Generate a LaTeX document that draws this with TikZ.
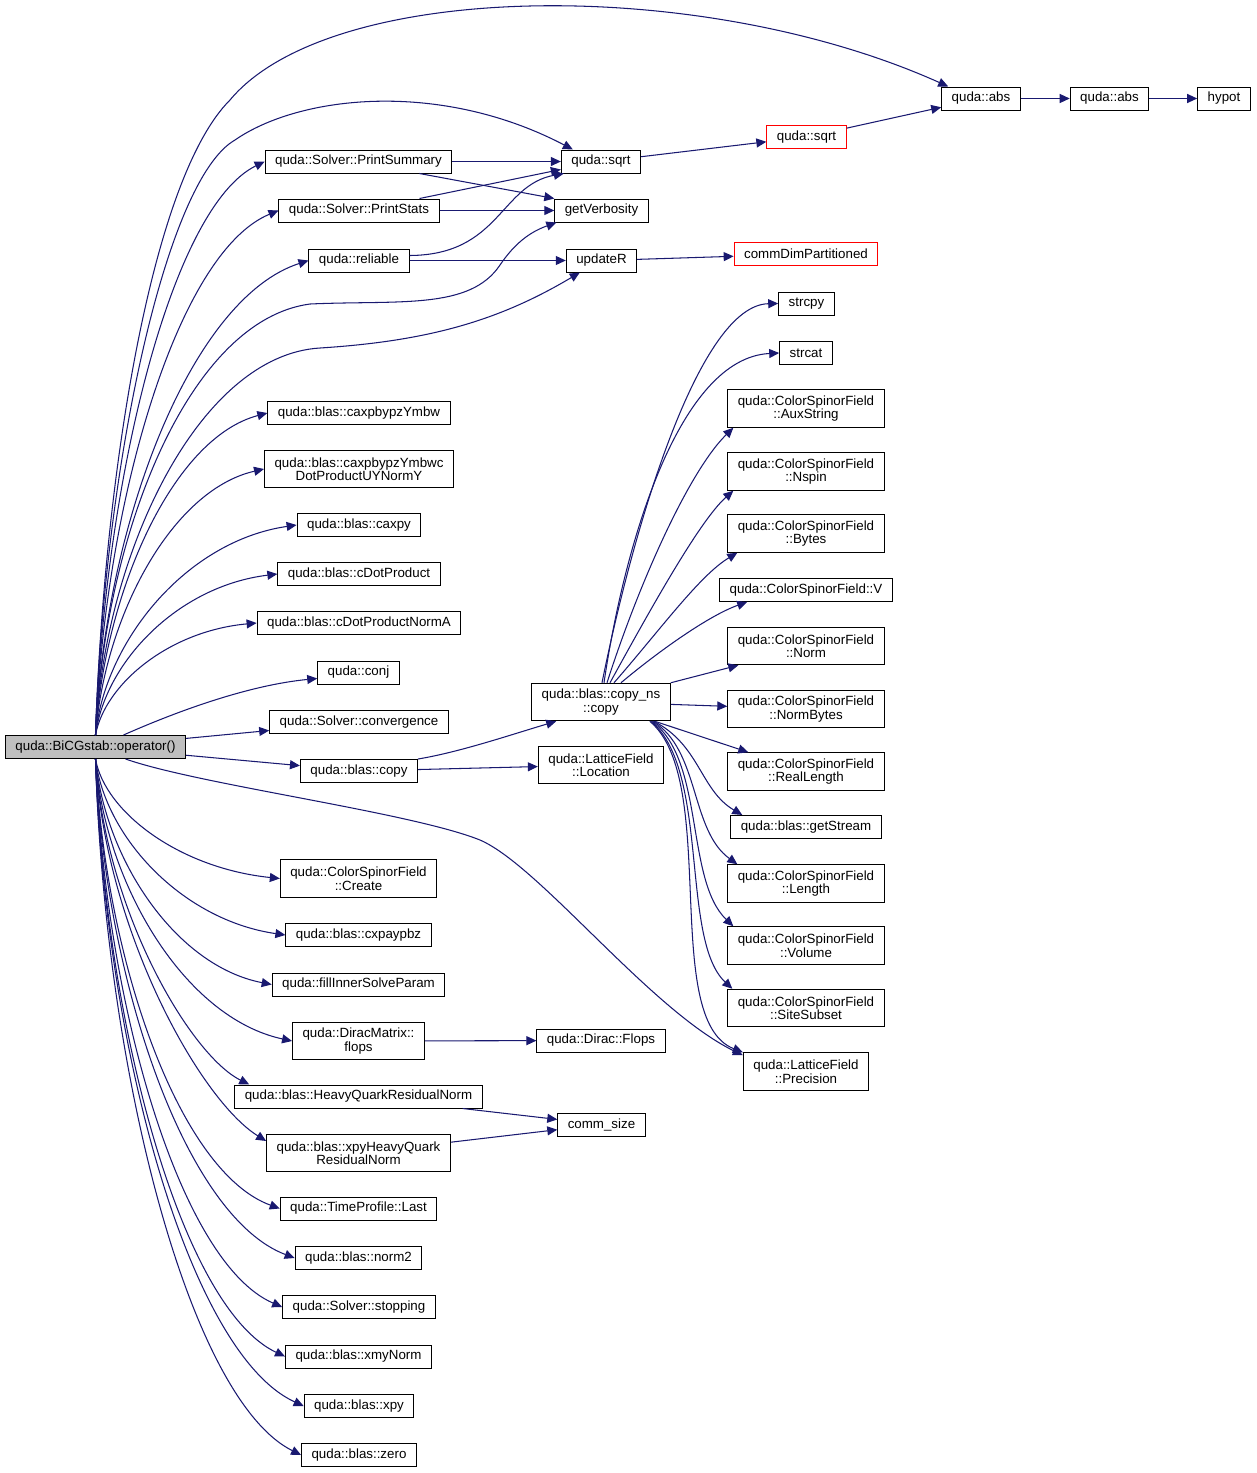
\documentclass[tikz,border=0pt]{standalone}
\usepackage{fontspec}
\setmainfont{Liberation Sans}
\usepackage{tikz}
\usetikzlibrary{arrows.meta,positioning,calc}
\usepackage{xcolor}
\definecolor{edge}{HTML}{191970}
\definecolor{rootgray}{HTML}{BFBFBF}
\tikzset{
  fnbox/.style={draw=black, line width=1pt, fill=white, align=center, inner xsep=10pt, inner ysep=2pt, minimum height=23pt, font=\fontsize{13.33}{13.5}\selectfont},
  twoline/.style={minimum height=37.5pt},
  rootbox/.style={fnbox, fill=rootgray},
  redbox/.style={fnbox, draw=red},
  arrow/.style={-{Triangle[length=10pt,width=9pt]}, line width=1.05pt, draw=edge}
}

\begin{document}
\begin{tikzpicture}[x=1pt, y=-1pt]
  \useasboundingbox (0,0) rectangle (1257,1473);
  % caller
  \node[rootbox] (root) at (95.5,747) {quda::BiCGstab::operator()};
  % second column
  \node[fnbox] (psum) at (358.5,161.5) {quda::Solver::PrintSummary};
  \node[fnbox] (pstat) at (359,210.5) {quda::Solver::PrintStats};
  \node[fnbox] (rel) at (359,260.5) {quda::reliable};
  \node[fnbox] (cxpb) at (359,413) {quda::blas::caxpbypzYmbw};
  \node[fnbox, twoline] (cxpbdot) at (359,469) {quda::blas::caxpbypzYmbwc\\DotProductUYNormY};
  \node[fnbox] (caxpy) at (359,525) {quda::blas::caxpy};
  \node[fnbox] (cdot) at (359,574) {quda::blas::cDotProduct};
  \node[fnbox] (cdotn) at (359,623) {quda::blas::cDotProductNormA};
  \node[fnbox] (conj) at (358.5,672.5) {quda::conj};
  \node[fnbox] (conv) at (359,722) {quda::Solver::convergence};
  \node[fnbox] (bcopy) at (359,771) {quda::blas::copy};
  \node[fnbox, twoline] (create) at (358.5,878.5) {quda::ColorSpinorField\\::Create};
  \node[fnbox] (cxpay) at (358.5,935) {quda::blas::cxpaypbz};
  \node[fnbox] (fill) at (358.5,984.5) {quda::fillInnerSolveParam};
  \node[fnbox, twoline] (dmflops) at (358.5,1041) {quda::DiracMatrix::\\flops};
  \node[fnbox] (hqrn) at (358.5,1096.5) {quda::blas::HeavyQuarkResidualNorm};
  \node[fnbox, twoline] (xhqrn) at (358.5,1153) {quda::blas::xpyHeavyQuark\\ResidualNorm};
  \node[fnbox] (tlast) at (358.5,1208.5) {quda::TimeProfile::Last};
  \node[fnbox] (norm2) at (358.5,1258) {quda::blas::norm2};
  \node[fnbox] (stop) at (359,1307) {quda::Solver::stopping};
  \node[fnbox] (xmy) at (358.5,1356.5) {quda::blas::xmyNorm};
  \node[fnbox] (xpy) at (359,1406) {quda::blas::xpy};
  \node[fnbox] (zero) at (359,1455) {quda::blas::zero};
  % third column
  \node[fnbox] (sqrt) at (601,161.5) {quda::sqrt};
  \node[fnbox] (verb) at (601.5,210.5) {getVerbosity};
  \node[fnbox] (updr) at (601.5,260.5) {updateR};
  \node[fnbox, twoline] (cpns) at (601,702) {quda::blas::copy\_ns\\::copy};
  \node[fnbox, twoline] (loc) at (601,765) {quda::LatticeField\\::Location};
  \node[fnbox] (dflops) at (601,1040.5) {quda::Dirac::Flops};
  \node[fnbox] (commsz) at (601.5,1124.5) {comm\_size};
  % fourth column
  \node[redbox] (sqrtr) at (806.5,137) {quda::sqrt};
  \node[redbox] (cdp) at (806,254) {commDimPartitioned};
  \node[fnbox] (strcpy) at (806.5,303.5) {strcpy};
  \node[fnbox] (strcat) at (806,353) {strcat};
  \node[fnbox, twoline] (aux) at (806,408.5) {quda::ColorSpinorField\\::AuxString};
  \node[fnbox, twoline] (nspin) at (806,471.5) {quda::ColorSpinorField\\::Nspin};
  \node[fnbox, twoline] (bytes) at (806,533.5) {quda::ColorSpinorField\\::Bytes};
  \node[fnbox] (csfv) at (806,590) {quda::ColorSpinorField::V};
  \node[fnbox, twoline] (norm) at (806,646) {quda::ColorSpinorField\\::Norm};
  \node[fnbox, twoline] (nbytes) at (806,709) {quda::ColorSpinorField\\::NormBytes};
  \node[fnbox, twoline] (rlen) at (806,771.5) {quda::ColorSpinorField\\::RealLength};
  \node[fnbox] (gstream) at (806,827) {quda::blas::getStream};
  \node[fnbox, twoline] (len) at (806,883.5) {quda::ColorSpinorField\\::Length};
  \node[fnbox, twoline] (vol) at (806,945.5) {quda::ColorSpinorField\\::Volume};
  \node[fnbox, twoline] (site) at (806,1008) {quda::ColorSpinorField\\::SiteSubset};
  \node[fnbox, twoline] (prec) at (806,1071.5) {quda::LatticeField\\::Precision};
  % abs chain
  \node[fnbox] (abs) at (981,98.5) {quda::abs};
  \node[fnbox] (absb) at (1109.5,98.5) {quda::abs};
  \node[fnbox] (hypot) at (1224,98.5) {hypot};

  % calls going up
  \draw[arrow] (root.north) .. controls (104,480) and (150,180) .. (230,100) .. controls (330,-20) and (700,-25) .. ([xshift=7pt]abs.north west);
  \draw[arrow] (root.north) .. controls (104,470) and (165,180) .. (235,140) .. controls (300,95) and (440,80) .. ([xshift=12pt]sqrt.north west);
  \draw[arrow] (root.north) .. controls (105,477) and (172,207) .. (psum.west);
  \draw[arrow] (root.north) .. controls (105,499) and (178,252) .. (pstat.west);
  \draw[arrow] (root.north) .. controls (105,521) and (192,298) .. (rel.west);
  \draw[arrow] (root.north) .. controls (105,530) and (190,320) .. (310,304) .. controls (400,300) and (470,310) .. (500,265) .. controls (515,243) and (530,232) .. ([xshift=2pt]verb.south west);
  \draw[arrow] (root.north) .. controls (105,550) and (200,355) .. (320,348) .. controls (430,341) and (500,320) .. ([xshift=14pt]updr.south west);
  \draw[arrow] (root.north) .. controls (105,590) and (173,438) .. (cxpb.west);
  \draw[arrow] (root.north) .. controls (105,615) and (172,490) .. (cxpbdot.west);
  \draw[arrow] (root.north) .. controls (105,640) and (187,541) .. (caxpy.west);
  \draw[arrow] (root.north) .. controls (105,662) and (178,586) .. (cdot.west);
  \draw[arrow] (root.north) .. controls (105,684) and (169,631) .. (cdotn.west);
  \draw[arrow] ([xshift=28pt]root.north) .. controls (180,710) and (250,685) .. ([yshift=-6pt]conj.west);
  \draw[arrow] (root) -- (conv);
  \draw[arrow] (root) -- (bcopy);
  % calls going down
  \draw[arrow] ([xshift=30pt]root.south) .. controls (200,785) and (410,812) .. (480,840) .. controls (540,866) and (650,1010) .. ([yshift=-3pt]prec.north west);
  \draw[arrow] (root.south) .. controls (105,812) and (179,868) .. (create.west);
  \draw[arrow] (root.south) .. controls (105,837) and (182,920) .. (cxpay.west);
  \draw[arrow] (root.south) .. controls (105,860) and (176,966) .. (fill.west);
  \draw[arrow] (root.south) .. controls (105,885) and (185,1018) .. (dmflops.west);
  \draw[arrow] (root.south) .. controls (105,910) and (190,1055) .. ([xshift=15pt]hqrn.north west);
  \draw[arrow] (root.south) .. controls (105,930) and (200,1100) .. ([yshift=12pt]xhqrn.west);
  \draw[arrow] (root.south) .. controls (105,960) and (179,1172) .. (tlast.west);
  \draw[arrow] (root.south) .. controls (105,983) and (186,1217) .. (norm2.west);
  \draw[arrow] (root.south) .. controls (105,1005) and (180,1263) .. (stop.west);
  \draw[arrow] (root.south) .. controls (105,1027) and (182,1308) .. (xmy.west);
  \draw[arrow] (root.south) .. controls (105,1050) and (190,1354) .. (xpy.west);
  \draw[arrow] (root.south) .. controls (105,1071) and (189,1399) .. (zero.west);

  % second level
  \draw[arrow] (psum) -- (sqrt);
  \draw[arrow] ([xshift=-33pt]psum.south east) -- (verb.north west);
  \draw[arrow] ([xshift=-20pt]pstat.north east) -- ([yshift=-8pt]sqrt.west);
  \draw[arrow] (pstat) -- (verb);
  \draw[arrow] ([yshift=5pt]rel.east) .. controls (500,255) and (500,185) .. ([xshift=3pt]sqrt.south west);
  \draw[arrow] (rel) -- (updr);
  \draw[arrow] (sqrt) -- (sqrtr);
  \draw[arrow] (sqrtr) -- (abs);
  \draw[arrow] (abs) -- (absb);
  \draw[arrow] (absb) -- (hypot);
  \draw[arrow] (updr) -- (cdp);
  \draw[arrow] (bcopy) -- (loc);
  \draw[arrow] (bcopy.north east) .. controls (460,752) and (510,735) .. ([xshift=25pt]cpns.south west);
  \draw[arrow] (dmflops) -- (dflops);
  \draw[arrow] (hqrn) -- (commsz);
  \draw[arrow] (xhqrn) -- (commsz);

  % copy_ns fan
  \draw[arrow] ([xshift=1pt]cpns.north) .. controls (635,520) and (700,305) .. (strcpy.west);
  \draw[arrow] ([xshift=3pt]cpns.north) .. controls (625,540) and (680,358) .. (strcat.west);
  \draw[arrow] ([xshift=6pt]cpns.north) .. controls (640,580) and (690,470) .. ([xshift=6pt]aux.south west);
  \draw[arrow] ([xshift=9pt]cpns.north) .. controls (650,610) and (700,520) .. ([xshift=6pt]nspin.south west);
  \draw[arrow] ([xshift=13pt]cpns.north) .. controls (660,630) and (700,575) .. ([xshift=10pt]bytes.south west);
  \draw[arrow] ([xshift=20pt]cpns.north) .. controls (660,650) and (710,615) .. ([xshift=28pt]csfv.south west);
  \draw[arrow] (cpns.north east) -- ([xshift=11pt]norm.south west);
  \draw[arrow] (cpns) -- (nbytes);
  \draw[arrow] ([xshift=-16pt]cpns.south east) -- ([xshift=21pt]rlen.north west);
  \draw[arrow] ([xshift=-17pt]cpns.south east) .. controls (700,745) and (700,790) .. ([xshift=12pt]gstream.north west);
  \draw[arrow] ([xshift=-18pt]cpns.south east) .. controls (700,750) and (690,830) .. ([xshift=10pt]len.north west);
  \draw[arrow] ([xshift=-19pt]cpns.south east) .. controls (705,760) and (685,880) .. ([xshift=6pt]vol.north west);
  \draw[arrow] ([xshift=-20pt]cpns.south east) .. controls (710,770) and (680,940) .. ([xshift=5pt]site.north west);
  \draw[arrow] ([xshift=-21pt]cpns.south east) .. controls (720,780) and (660,1020) .. (prec.north west);
\end{tikzpicture}
\end{document}
